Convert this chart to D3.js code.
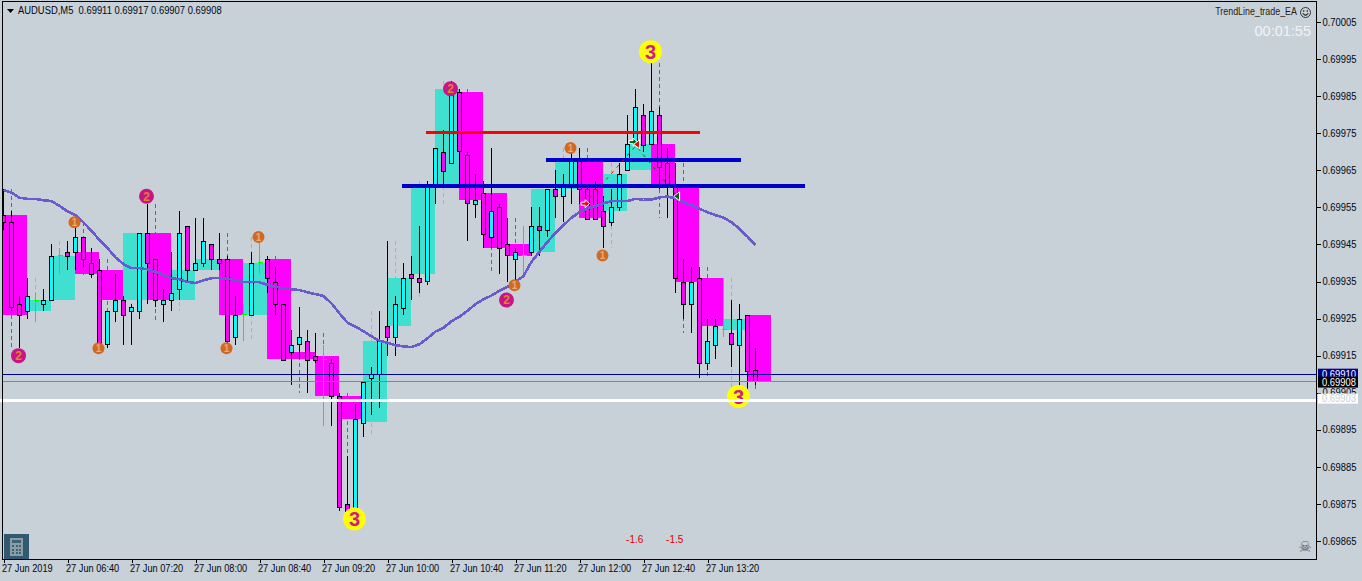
<!DOCTYPE html>
<html>
<head>
<meta charset="utf-8">
<script src="https://cdn.jsdelivr.net/npm/d3@7"></script>
<style>
  html, body { margin: 0; padding: 0; background: #c8d0d8; overflow: hidden; }
  text { font-family: "Liberation Sans", sans-serif; }
</style>
</head>
<body>
<div id="viz"></div>
<script>
// prices are in points (1 point = 0.00001), one entry per M5 bar from 06:00
const opens = [
  69953,69951,69929,69927,69930,69929,69930,69942,69943,69943,
  69947,69940,69938,69918,69927,69930,69927,69927,69948,69941,
  69929,69930,69933,69950,69938,69940,69945,69941,69941,69920,
  69926,69926,69940,69941,69935,69929,69916,69918,69919,69915,
  69914,69913,69904,69875,69873,69897,69909,69910,69923,69920,
  69928,69937,69936,69935,69961,69970,69967,69986,69969,69956,
  69959,69947,69955,69945,69941,69942,69943,69950,69949,69960,
  69958,69961,69968,69960,69960,69954,69951,69955,69965,69972,
  69980,69972,69980,69967,69961,69935,69929,69936,69913,69918,
  69922,69921,69918,69926,69911];
const highs = [
  69960,69954,69931,69936,69932,69933,69945,69944,69946,69951,
  69947,69944,69941,69927,69937,69931,69929,69948,69956,69941,
  69933,69943,69954,69950,69952,69952,69945,69948,69942,69931,
  69929,69943,69947,69942,69939,69929,69922,69928,69922,69921,
  69918,69914,69905,69888,69902,69908,69912,69927,69946,69931,
  69940,69942,69950,69962,69971,69976,69989,69987,69970,69964,
  69962,69971,69956,69952,69944,69950,69955,69955,69960,69965,
  69964,69971,69971,69961,69962,69958,69960,69967,69980,69987,
  69983,69994,69982,69971,69967,69941,69939,69939,69925,69925,
  69936,69930,69929,69926,69917];
const lows = [
  69949,69927,69917,69925,69924,69927,69930,69937,69938,69938,
  69939,69936,69917,69917,69924,69918,69918,69925,69929,69928,
  69924,69927,69930,69935,69938,69939,69938,69938,69918,69918,
  69919,69926,69937,69932,69926,69914,69907,69914,69905,69913,
  69896,69896,69873,69873,69873,69893,69899,69901,69915,69915,
  69926,69930,69932,69934,69956,69961,69967,69961,69946,69952,
  69944,69944,69937,69935,69934,69936,69942,69942,69947,69952,
  69951,69956,69956,69952,69952,69944,69950,69954,69965,69972,
  69970,69972,69960,69952,69932,69925,69921,69909,69911,69914,
  69920,69912,69906,69906,69907];
const closes = [
  69951,69928,69926,69931,69930,69930,69942,69942,69942,69947,
  69941,69937,69918,69927,69930,69926,69928,69948,69940,69930,
  69930,69932,69948,69938,69940,69946,69941,69940,69919,69926,
  69926,69940,69940,69936,69929,69914,69918,69920,69914,69914,
  69914,69904,69874,69873,69898,69908,69910,69919,69920,69929,
  69936,69936,69935,69961,69971,69965,69987,69970,69956,69957,
  69948,69954,69944,69942,69943,69942,69950,69949,69960,69958,
  69961,69968,69960,69952,69952,69950,69955,69964,69972,69982,
  69972,69981,69966,69961,69936,69929,69935,69913,69919,69923,
  69922,69918,69925,69911,69908];
const maValues = [
  69959.7,69959.0,69957.6,69957.3,69957.3,69956.9,69956.7,69955.4,69953.9,69952.9,
  69950.9,69948.7,69946.2,69944.0,69941.5,69939.7,69938.6,69938.6,69938.3,69937.6,
  69936.8,69935.9,69935.6,69934.9,69934.6,69935.3,69935.9,69935.9,69935.8,69935.4,
  69934.9,69934.9,69934.8,69934.1,69933.6,69933.1,69932.9,69932.7,69932.1,69931.6,
  69931.1,69929.1,69926.4,69923.9,69922.8,69921.6,69920.2,69919.0,69918.5,69917.8,
  69917.5,69917.3,69918.1,69919.7,69921.5,69922.5,69924.3,69925.5,69927.1,69928.9,
  69930.2,69931.2,69932.5,69933.6,69934.9,69936.5,69940.3,69943.0,69945.7,69948.1,
  69950.2,69952.2,69953.7,69954.7,69955.4,69956.1,69956.7,69956.7,69956.7,69957.3,
  69957.1,69957.1,69957.7,69957.9,69957.4,69956.4,69955.6,69954.6,69953.7,69952.9,
  69952.2,69951.0,69949.2,69947.1,69944.8];

const priceTicks = [70005,69995,69985,69975,69965,69955,69945,69935,69925,69915,69905,69895,69885,69875,69865];
const timeTickBars = [0,8,16,24,32,40,48,56,64,72,80,88];
const timeLabels = ['27 Jun 2019','27 Jun 06:40','27 Jun 07:20','27 Jun 08:00','27 Jun 08:40','27 Jun 09:20',
  '27 Jun 10:00','27 Jun 10:40','27 Jun 11:20','27 Jun 12:00','27 Jun 12:40','27 Jun 13:20'];

// [startBar, endBar, price]
const trendRed = [52.8, 87, 69975.2];
const trendBlueTop = [67.8, 92.2, 69967.8];
const trendBlueLow = [49.8, 100.2, 69960.8];

// numbered markers
const markerBars = [81,44,92, 2,18,56,63, 9,12,32,28,64,71,75];
const markerPrices = [69997,69871,69904, 69915,69958,69987,69930, 69951,69917,69947,69917,69934,69971,69942];
const markerNumbers = [3,3,3, 2,2,2,2, 1,1,1,1,1,1,1];

// trade arrows and their dotted links
const buyTrade = { bars: [72.7, 79.2], prices: [69956, 69972] };
const sellTrade = { bars: [78.7, 84.2], prices: [69972.6, 69958] };

const bidPrice = 69910;
const askPrice = 69908;
const whitePrice = 69903;

const profitLabels = ['-1.6', '-1.5'];
const profitBars = [78.9, 83.9];

const width = 1362, height = 581;
const bgColor = '#c8d0d8';
const upBox = '#40e0d0', downBox = '#ff00ff';

const x = d3.scaleLinear().domain([0, 94]).range([3.5, 755.5]);
const y = d3.scaleLinear().domain([70005, 69865]).range([22, 541]);

const svg = d3.select('#viz').append('svg')
  .attr('width', width)
  .attr('height', height)
  .style('display', 'block');

svg.append('rect').attr('width', width).attr('height', height).attr('fill', bgColor);

svg.append('clipPath').attr('id', 'plot')
  .append('rect').attr('x', 3).attr('y', 3).attr('width', 1313).attr('height', 556);

const plot = svg.append('g').attr('clip-path', 'url(#plot)');

const bars = d3.range(opens.length).map(i => ({
  i, open: opens[i], high: highs[i], low: lows[i], close: closes[i]
}));

// M15 boxes, three M5 bars each
const boxes = d3.range(0, bars.length, 3).map(start => {
  const group = bars.slice(start, start + 3);
  return {
    start,
    open: group[0].open,
    close: group[group.length - 1].close,
    high: d3.max(group, d => d.high),
    low: d3.min(group, d => d.low)
  };
});

plot.append('g').selectAll('rect')
  .data(boxes)
  .enter().append('rect')
  .attr('x', d => x(d.start) - 0.5)
  .attr('width', x(3) - x(0))
  .attr('y', d => y(Math.max(d.open, d.close)))
  .attr('height', d => Math.abs(y(d.open) - y(d.close)))
  .attr('fill', d => d.close >= d.open ? upBox : downBox)
  .attr('shape-rendering', 'crispEdges');

plot.append('g').selectAll('line')
  .data(boxes)
  .enter().append('line')
  .attr('x1', d => x(d.start + 1))
  .attr('x2', d => x(d.start + 1))
  .attr('y1', d => y(d.high))
  .attr('y2', d => y(d.low))
  .attr('stroke', d => d.close >= d.open ? upBox : downBox)
  .attr('stroke-dasharray', '4,3')
  .attr('shape-rendering', 'crispEdges');

// candles
const candle = plot.append('g').selectAll('g')
  .data(bars)
  .enter().append('g')
  .attr('shape-rendering', 'crispEdges');

candle.append('line')
  .attr('x1', d => x(d.i))
  .attr('x2', d => x(d.i))
  .attr('y1', d => y(d.high))
  .attr('y2', d => y(d.low))
  .attr('stroke', d => d.open === d.close ? '#00ff00' : '#000');

candle.filter(d => d.open !== d.close).append('rect')
  .attr('x', d => x(d.i) - 2)
  .attr('width', 4)
  .attr('y', d => Math.round(y(Math.max(d.open, d.close))) + 0.5)
  .attr('height', d => Math.max(3, Math.round(Math.abs(y(d.open) - y(d.close)))))
  .attr('fill', d => d.close > d.open ? '#00ffff' : '#ff00ff')
  .attr('stroke', '#000');

candle.filter(d => d.open === d.close).append('line')
  .attr('x1', d => x(d.i) - 2)
  .attr('x2', d => x(d.i) + 3)
  .attr('y1', d => y(d.open))
  .attr('y2', d => y(d.open))
  .attr('stroke', '#00ff00');

// moving average
const maLine = d3.line().x((d, i) => x(i)).y(d => y(d));
plot.append('path')
  .attr('d', maLine(maValues))
  .attr('fill', 'none')
  .attr('stroke', '#6a5acd')
  .attr('stroke-width', 2.6)
  .attr('shape-rendering', 'crispEdges');

// price lines
function priceLine(price, color, sw, x1) {
  svg.append('line')
    .attr('x1', x1 === undefined ? 3 : x1)
    .attr('x2', 1316)
    .attr('y1', y(price))
    .attr('y2', y(price))
    .attr('stroke', color)
    .attr('stroke-width', sw)
    .attr('shape-rendering', 'crispEdges');
}
priceLine(bidPrice, '#00008b', 1);
priceLine(askPrice, '#778899', 1);

// trend lines
function trendLine(t, color, sw) {
  plot.append('line')
    .attr('x1', x(t[0]))
    .attr('x2', x(t[1]))
    .attr('y1', y(t[2]))
    .attr('y2', y(t[2]))
    .attr('stroke', color)
    .attr('stroke-width', sw)
    .attr('shape-rendering', 'crispEdges');
}
trendLine(trendRed, '#ff0000', 3);
trendLine(trendBlueTop, '#0000cd', 4);
trendLine(trendBlueLow, '#0000cd', 4);

// trades
function tradeLink(t, color) {
  plot.append('line')
    .attr('x1', x(t.bars[0]))
    .attr('x2', x(t.bars[1]))
    .attr('y1', y(t.prices[0]))
    .attr('y2', y(t.prices[1]))
    .attr('stroke', color)
    .attr('stroke-dasharray', '3,5');
}
tradeLink(buyTrade, '#ff0000');
tradeLink(sellTrade, '#006400');

const rightArrow = 'M-4,-1.5 L0,-1.5 L0,-4 L4.5,0 L0,4 L0,1.5 L-4,1.5 Z';
const leftTriangle = 'M-3.5,0 L2.5,-4.5 L2.5,4.5 Z';
function arrow(bar, price, shape, color) {
  plot.append('path')
    .attr('d', shape)
    .attr('transform', `translate(${x(bar)},${y(price)})`)
    .attr('fill', color)
    .attr('stroke', '#fff')
    .attr('stroke-width', 1);
}
arrow(buyTrade.bars[0], buyTrade.prices[0], rightArrow, '#ff0000');
arrow(sellTrade.bars[0], sellTrade.prices[0], rightArrow, '#006400');
arrow(buyTrade.bars[1], buyTrade.prices[1], leftTriangle, '#ff0000');
arrow(sellTrade.bars[1], sellTrade.prices[1], leftTriangle, '#006400');

// numbered markers
const markerStyle = {
  3: { r: 11.5, fill: '#ffff00', color: '#d01a8c', size: 20 },
  2: { r: 7.5, fill: '#c71585', color: '#e08030', size: 12 },
  1: { r: 6, fill: '#d2691e', color: '#e8a878', size: 10 }
};
const marker = plot.append('g').selectAll('g')
  .data(markerBars.map((b, i) => ({ bar: b, price: markerPrices[i], num: markerNumbers[i] })))
  .enter().append('g')
  .attr('transform', d => `translate(${x(d.bar) - 1},${y(d.price)})`);

marker.append('circle')
  .attr('r', d => markerStyle[d.num].r)
  .attr('fill', d => markerStyle[d.num].fill);

marker.append('text')
  .attr('text-anchor', 'middle')
  .attr('dy', '0.36em')
  .attr('fill', d => markerStyle[d.num].color)
  .style('font-size', d => markerStyle[d.num].size + 'px')
  .style('font-weight', 'bold')
  .text(d => d.num);

// white line goes over the markers
priceLine(whitePrice, '#ffffff', 3, 0);

plot.append('g').selectAll('text')
  .data(profitLabels)
  .enter().append('text')
  .attr('x', (d, i) => x(profitBars[i]))
  .attr('y', 543)
  .attr('text-anchor', 'middle')
  .attr('fill', '#e00000')
  .style('font-size', '10px')
  .text(d => d);

// squeeze text sideways, the original font is tall and narrow
function squeeze(sel, ratio) {
  sel.each(function() {
    d3.select(this)
      .attr('textLength', this.getComputedTextLength() * ratio)
      .attr('lengthAdjust', 'spacingAndGlyphs');
  });
}

// axes
const axisColor = '#000814';
const yAxis = svg.append('g')
  .attr('transform', 'translate(1316.5,0)')
  .attr('shape-rendering', 'crispEdges')
  .call(d3.axisRight(y)
    .tickValues(priceTicks)
    .tickSize(4)
    .tickPadding(2)
    .tickFormat(d => (d / 100000).toFixed(5)));
yAxis.select('.domain').remove();
yAxis.selectAll('line').attr('stroke', '#000');
yAxis.selectAll('text')
  .attr('fill', axisColor)
  .style('font-family', '"Liberation Sans", sans-serif')
  .style('font-size', '10px')
  .call(squeeze, 0.94);

const xAxis = svg.append('g')
  .attr('transform', 'translate(0,559.5)')
  .attr('shape-rendering', 'crispEdges')
  .call(d3.axisBottom(x)
    .tickValues(timeTickBars)
    .tickSize(3)
    .tickPadding(2)
    .tickFormat((d, i) => timeLabels[i]));
xAxis.select('.domain').remove();
xAxis.selectAll('line').attr('stroke', '#000');
xAxis.selectAll('text')
  .attr('text-anchor', 'start')
  .attr('dx', -2)
  .attr('fill', axisColor)
  .style('font-family', '"Liberation Sans", sans-serif')
  .style('font-size', '10px')
  .call(squeeze, 0.92);

// frame
svg.append('path')
  .attr('d', 'M2.5,559.5 V1.5 H1316.5 V559.5 Z')
  .attr('fill', 'none')
  .attr('stroke', '#000')
  .attr('shape-rendering', 'crispEdges');

// current price flags
function priceFlag(price, fill, color, top, h) {
  svg.append('rect')
    .attr('x', 1318).attr('y', top).attr('width', 40).attr('height', h)
    .attr('fill', fill);
  svg.append('text')
    .attr('x', 1322).attr('y', top + h - 1.5)
    .attr('fill', color)
    .style('font-size', '10px')
    .text((price / 100000).toFixed(5))
    .call(squeeze, 0.94);
}
priceFlag(bidPrice, '#00008b', '#fff', y(bidPrice) - 5.5, 11);
priceFlag(askPrice, '#000', '#fff', y(askPrice) - 5, 11);
priceFlag(whitePrice, '#fff', bgColor, y(whitePrice) - 6.5, 10);

// header
svg.append('path').attr('d', 'M7,9 H14 L10.5,13 Z').attr('fill', '#000');
svg.append('text')
  .attr('x', 18).attr('y', 14)
  .attr('fill', axisColor)
  .style('font-size', '10px')
  .attr('xml:space', 'preserve')
  .text('AUDUSD,M5  0.69911 0.69917 0.69907 0.69908')
  .call(squeeze, 0.94);

svg.append('text')
  .attr('x', 1297).attr('y', 15)
  .attr('text-anchor', 'end')
  .attr('fill', '#2a2010')
  .style('font-size', '10px')
  .text('TrendLine_trade_EA')
  .call(squeeze, 0.89);

const smile = svg.append('g')
  .attr('transform', 'translate(1305.5,12.5)')
  .attr('fill', 'none')
  .attr('stroke', '#333');
smile.append('circle').attr('r', 5);
smile.append('path').attr('d', d3.arc()({ innerRadius: 2.6, outerRadius: 2.6, startAngle: Math.PI * 0.6, endAngle: Math.PI * 1.4 }));
smile.append('circle').attr('cx', -1.8).attr('cy', -1.5).attr('r', 0.5);
smile.append('circle').attr('cx', 1.8).attr('cy', -1.5).attr('r', 0.5);

svg.append('text')
  .attr('x', 1311).attr('y', 36)
  .attr('text-anchor', 'end')
  .attr('fill', '#f2f4f6')
  .style('font-size', '14.5px')
  .text('00:01:55');

// calculator button
const calc = svg.append('g').attr('shape-rendering', 'crispEdges');
calc.append('rect').attr('x', 4).attr('y', 534).attr('width', 25).attr('height', 25).attr('fill', '#2f5a72');
calc.append('rect').attr('x', 10).attr('y', 538).attr('width', 13).attr('height', 18).attr('fill', '#8c9ca4');
calc.append('rect').attr('x', 12).attr('y', 540).attr('width', 9).attr('height', 3).attr('fill', '#3e6478');
d3.range(3).forEach(c => d3.range(3).forEach(r => {
  calc.append('rect')
    .attr('x', 12 + c * 3.5).attr('y', 545 + r * 3.5)
    .attr('width', 2).attr('height', 2)
    .attr('fill', '#3e6478');
}));

// skull
svg.append('text')
  .attr('x', 1305).attr('y', 552)
  .attr('text-anchor', 'middle')
  .attr('fill', '#606060')
  .style('font-family', '"DejaVu Sans", sans-serif')
  .style('font-size', '15px')
  .text('\u2620');
</script>
</body>
</html>
